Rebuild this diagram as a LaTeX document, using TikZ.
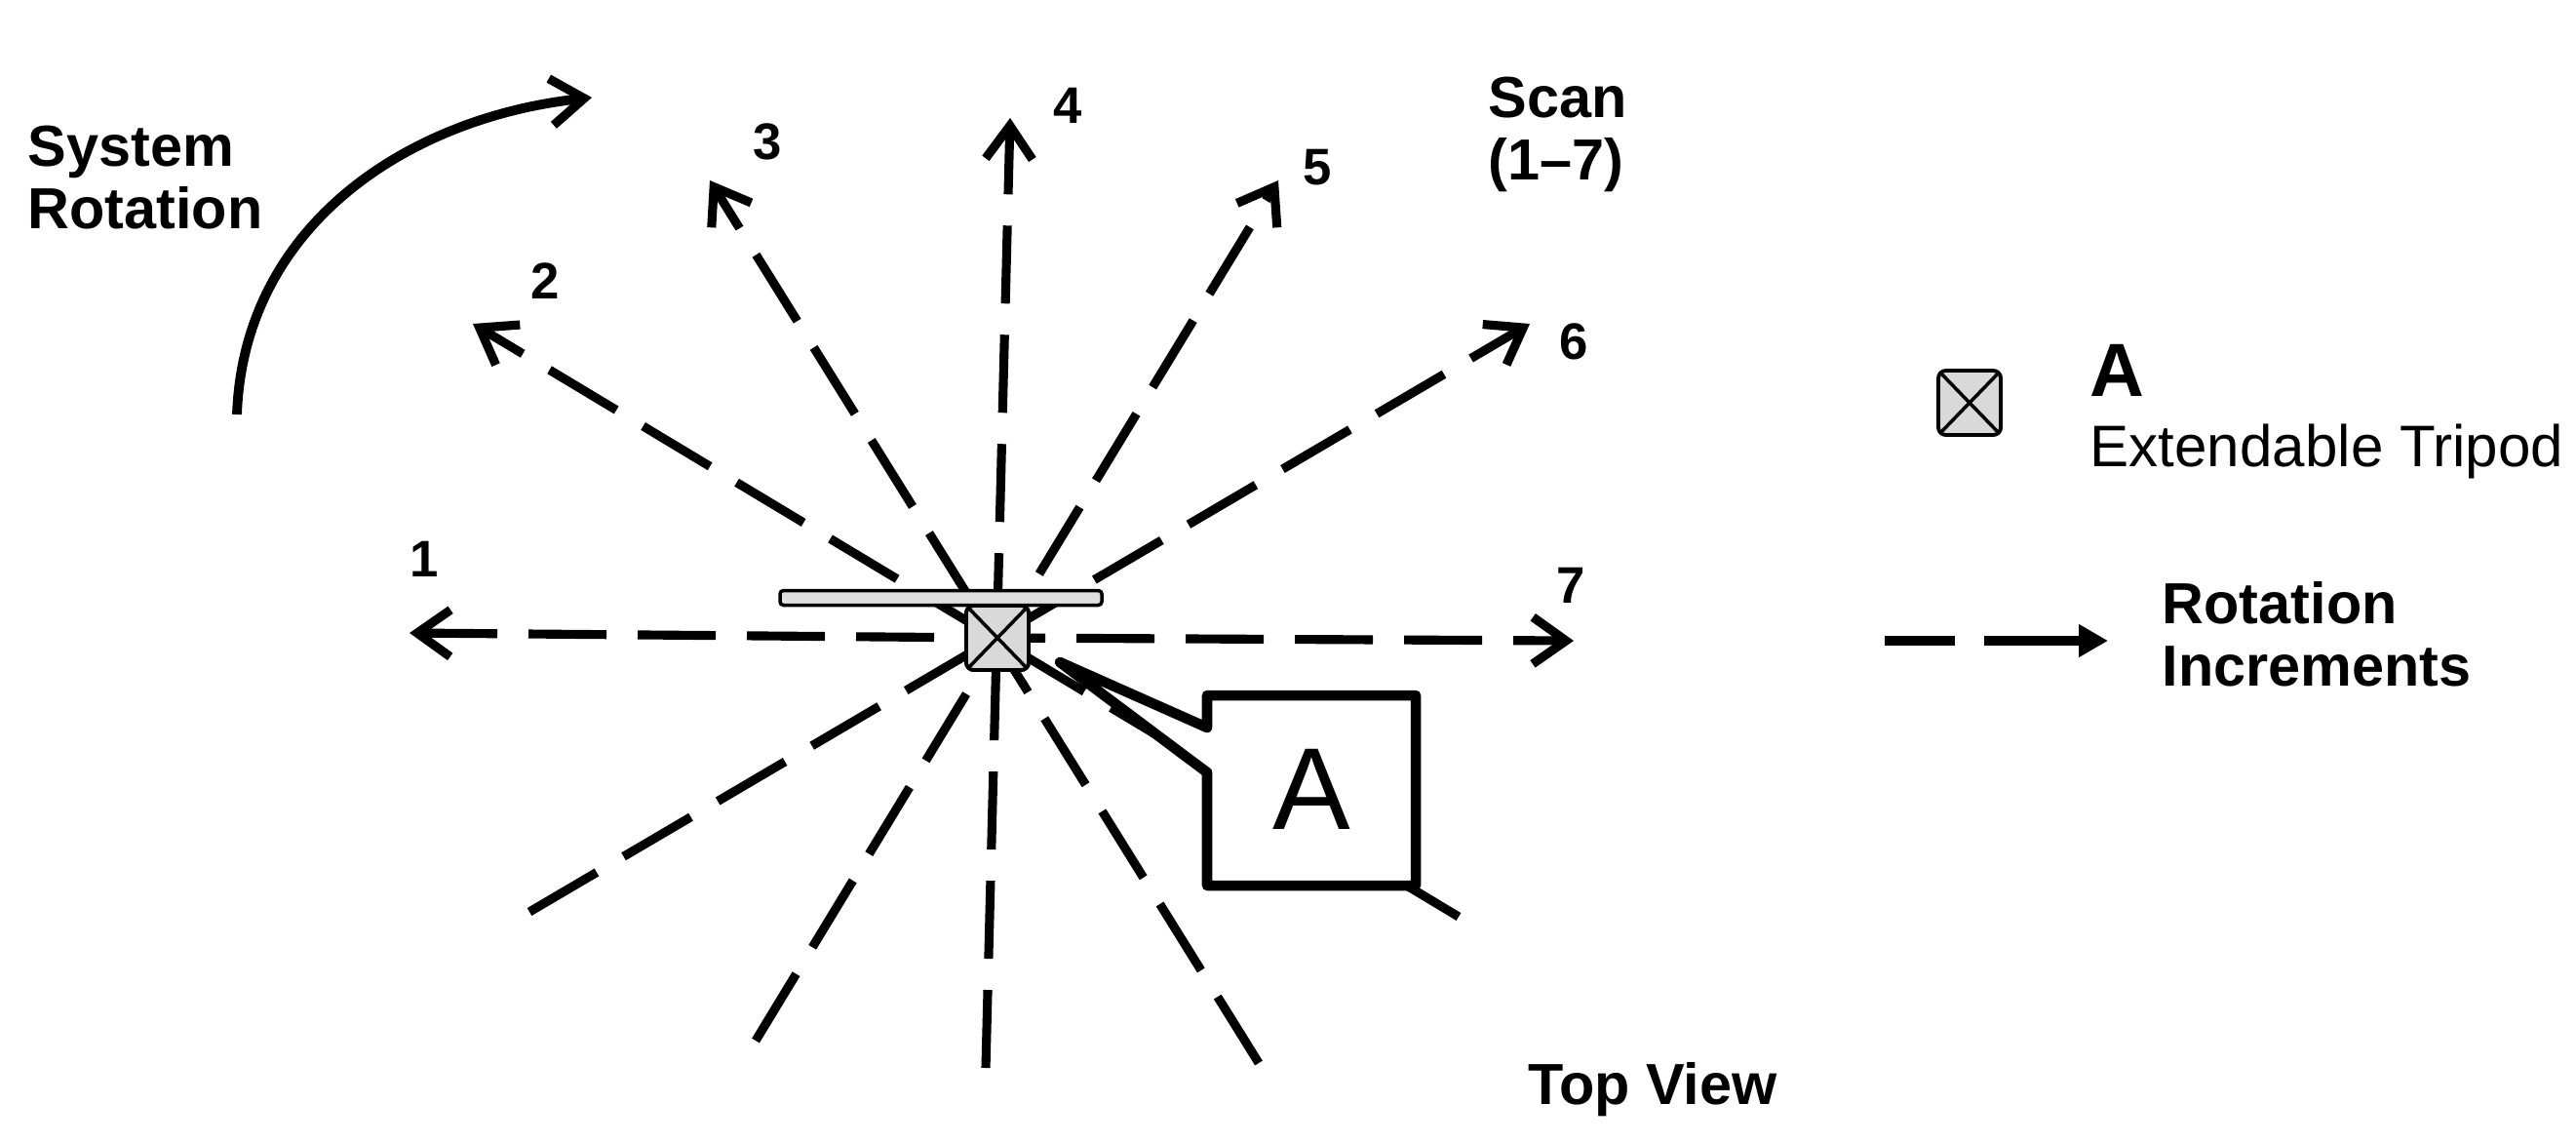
\documentclass[tikz,border=0pt]{standalone}
\usepackage{fontspec}
\setmainfont{Liberation Sans}
\usetikzlibrary{arrows.meta}

\begin{document}
\begin{tikzpicture}[> = {Straight Barb[length=3.4mm, width=4.8mm, line width=2.6pt]}, line cap=butt,
    scan/.style = {->, line width=2.6pt, dash pattern=on .80cm off .32cm},
    tripod/.style = {draw, line width=1.1pt, fill=black!15, rounded corners=2.2pt, inner sep=0, minimum width=.64cm, minimum height=.66cm,
        path picture={\draw[line width=1pt] (path picture bounding box.north west) -- (path picture bounding box.south east)
            (path picture bounding box.north east) -- (path picture bounding box.south west);}},
    bar/.style = {draw, line width=1pt, fill=black!12, rounded corners=1pt, inner sep=0, minimum width=3.3cm, minimum height=.15cm},
    lbl/.style = {font=\fontsize{16.9}{18.2}\selectfont\bfseries, align=left, inner sep=0},
    num/.style = {font=\fontsize{15}{18}\selectfont\bfseries, inner sep=0}]
    \useasboundingbox (0, 0) rectangle (26.42, -11.71);

    \node[tripod] (center) at (10.23, -6.54) {};
    \coordinate (tip1) at (4.20, -6.49);
    \coordinate (tip2) at (4.85, -3.32);
    \coordinate (tip3) at (7.28, -1.85);
    \coordinate (tip4) at (10.36, -1.21);
    \coordinate (tip5) at (13.11, -1.85);
    \coordinate (tip6) at (15.69, -3.32);
    \coordinate (tip7) at (16.14, -6.57);
    \coordinate (tail2) at (14.96, -9.40);
    \coordinate (tail3) at (12.91, -10.90);
    \coordinate (tail4) at (10.11, -10.95);
    \coordinate (tail5) at (7.75, -10.67);
    \coordinate (tail6) at (5.43, -9.35);

    \draw[scan, dash phase=.47cm] (center.center) -- (tip1);
    \draw[scan, dash phase=.31cm] (center.center) -- (tip7);
    \draw[scan] (tail2) -- (tip2);
    \draw[scan] (tail3) -- (tip3);
    \draw[scan] (tail4) -- (tip4);
    \draw[scan] (tail5) -- (tip5);
    \draw[scan] (tail6) -- (tip6);

    \node[bar] (plate) at (9.65, -6.13) {};
    \node[tripod] at (center) {};

    \node[num] (n1) at (4.35, -5.73) {1};
    \node[num] (n2) at (5.59, -2.88) {2};
    \node[num] (n3) at (7.87, -1.45) {3};
    \node[num] (n4) at (10.95, -1.08) {4};
    \node[num] (n5) at (13.51, -1.72) {5};
    \node[num] (n6) at (16.14, -3.50) {6};
    \node[num] (n7) at (16.11, -6.00) {7};

    % callout
    \coordinate (point) at (10.87, -6.79);
    \filldraw[fill=white, line width=3pt, line join=round] (12.38, -7.13) -- (14.52, -7.13) -- (14.52, -9.08) -- (12.38, -9.08)
        -- (12.38, -7.92) -- (point) -- (12.38, -7.46) -- cycle;
    \node[font=\fontsize{34}{40}\selectfont, inner sep=0] (calloutA) at (13.45, -8.09) {A};

    % system rotation
    \coordinate (rotstart) at (2.43, -4.25);
    \coordinate (rotend) at (6.07, -1.00);
    \draw[->, line width=2.8pt] (rotstart) .. controls (2.50, -2.30) and (4.20, -1.20) .. (rotend);
    \node[lbl, anchor=west] (rotlabel) at (.28, -1.82) {System\\Rotation};
    \node[lbl, anchor=west] (scanlabel) at (15.26, -1.38) {Scan\\(1–7)};
    \node[lbl, anchor=center] (viewlabel) at (16.95, -11.17) {Top View};

    % legend
    \node[tripod] (legtripod) at (20.20, -4.13) {};
    \node[font=\fontsize{22}{26}\selectfont\bfseries, inner sep=0, anchor=west] (legA) at (21.43, -3.80) {A};
    \node[font=\fontsize{17.1}{20}\selectfont, inner sep=0, anchor=west] (legtext) at (21.43, -4.63) {Extendable Tripod};
    \coordinate (legstart) at (19.33, -6.57);
    \coordinate (legend) at (21.62, -6.57);
    \draw[-{Stealth[inset=0pt, length=3mm, width=3.2mm]}, line width=2.6pt, dash pattern=on .72cm off .30cm on 1.3cm off 0cm] (legstart) -- (legend);
    \node[lbl, anchor=west] (leglabel) at (22.17, -6.50) {Rotation\\Increments};
\end{tikzpicture}
\end{document}
